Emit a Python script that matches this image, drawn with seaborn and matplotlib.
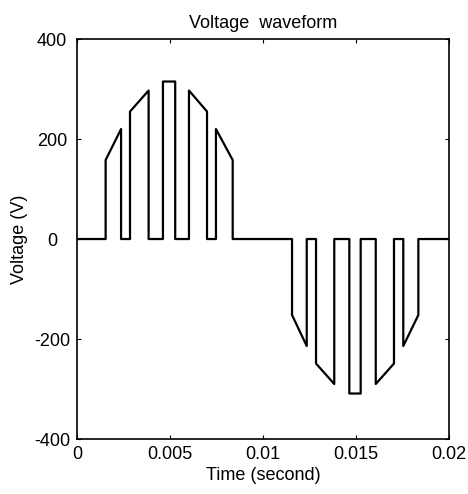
import pandas as pd
import matplotlib
matplotlib.use("Agg")
import matplotlib.pyplot as plt
import seaborn as sns

# waveform corner points (time in s, voltage in V)
time_s = [0, 0.00154, 0.00154, 0.00237, 0.00237, 0.00285, 0.00285, 0.00385, 0.00385,
          0.00462, 0.00462, 0.00528, 0.00528, 0.00602, 0.00602, 0.00699, 0.00699,
          0.00747, 0.00747, 0.00837, 0.00837,
          0.01156, 0.01156, 0.01235, 0.01235, 0.01285, 0.01285, 0.01383, 0.01383,
          0.01464, 0.01464, 0.01525, 0.01525, 0.01606, 0.01606, 0.01704, 0.01704,
          0.01754, 0.01754, 0.01835, 0.01835, 0.02]
voltage = [0, 0, 158, 220, 0, 0, 255, 297, 0,
           0, 315, 315, 0, 0, 297, 255, 0,
           0, 220, 158, 0,
           0, -152, -214, 0, 0, -249, -290, 0,
           0, -309, -309, 0, 0, -290, -249, 0,
           0, -214, -152, 0, 0]

xticks = [0, 0.005, 0.01, 0.015, 0.02]
xtick_labels = ['0', '0.005', '0.01', '0.015', '0.02']
yticks = [-400, -200, 0, 200, 400]

sns.set_theme(style="ticks")
plt.rcParams['font.family'] = ['Liberation Sans', 'DejaVu Sans']
plt.rcParams['axes.unicode_minus'] = False
plt.rcParams['xtick.direction'] = 'in'
plt.rcParams['ytick.direction'] = 'in'
plt.rcParams['text.color'] = 'black'
plt.rcParams['axes.labelcolor'] = 'black'

df = pd.DataFrame({'t': time_s, 'v': voltage})

fig = plt.figure(figsize=(4.68, 4.94), dpi=100)
ax = fig.add_axes([0.1645, 0.1113, 0.795, 0.8097])
sns.lineplot(data=df, x='t', y='v', sort=False, estimator=None, color='black',
             linewidth=1.6, ax=ax)

ax.set_xlim(0, 0.02)
ax.set_ylim(-400, 400)
ax.set_xticks(xticks)
ax.set_xticklabels(xtick_labels)
ax.set_yticks(yticks)
ax.tick_params(axis='both', labelsize=13, length=3, width=0.8,
               top=True, right=True, colors='black')
ax.tick_params(axis='x', pad=5)
ax.tick_params(axis='y', pad=18)
# y tick labels sit centred in a column, as in the reference
for lbl in ax.get_yticklabels():
    lbl.set_horizontalalignment('center')
for s in ax.spines.values():
    s.set_linewidth(1.2)
    s.set_color('black')

ax.set_title('Voltage  waveform', fontsize=13, pad=8, color='black')
ax.set_xlabel('Time (second)', fontsize=13, labelpad=3, color='black')
ax.set_ylabel('Voltage (V)', fontsize=13, labelpad=4, color='black')

fig.savefig('out.png', dpi=100)
